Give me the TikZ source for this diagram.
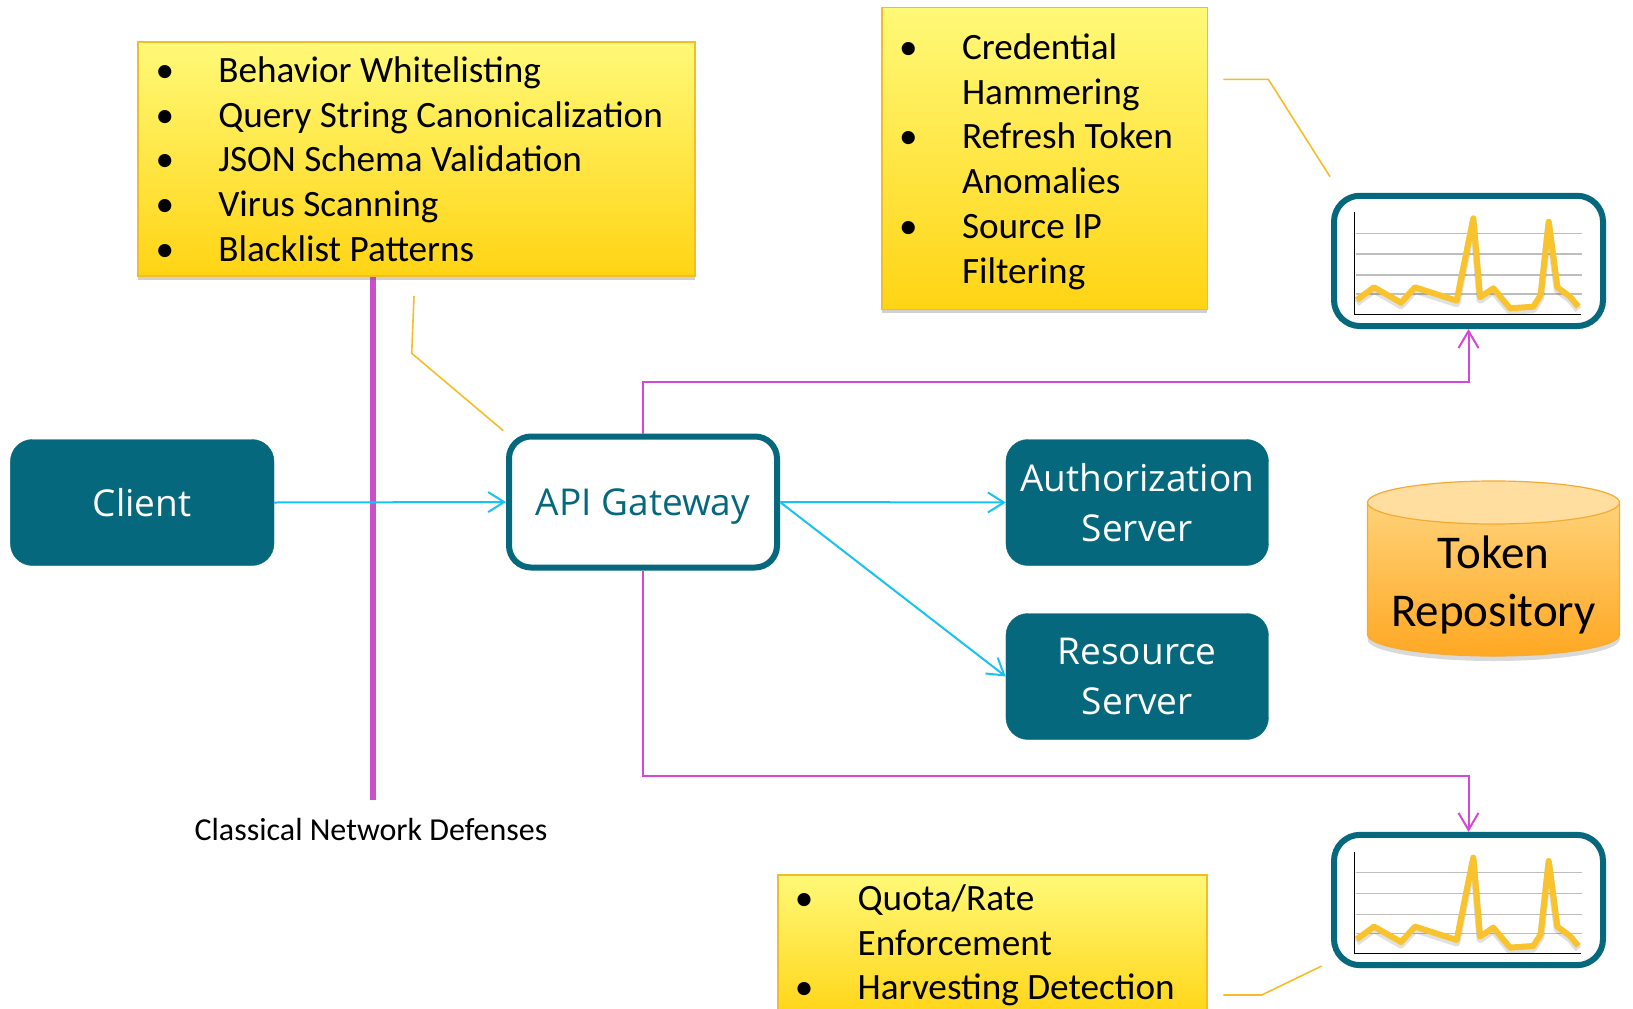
\documentclass[tikz,border=0pt]{standalone}
\usepackage{fontspec}
\setmainfont{Carlito}
\newfontfamily\osans{Open Sans}
\usetikzlibrary{arrows.meta,shadows}
\definecolor{tealc}{RGB}{5,104,125}
\definecolor{yeltop}{RGB}{255,249,120}
\definecolor{yelbot}{RGB}{255,212,20}
\definecolor{yelborder}{RGB}{242,190,40}
\definecolor{cyanc}{RGB}{25,195,240}
\definecolor{magthick}{RGB}{200,80,200}
\definecolor{magthin}{RGB}{212,72,212}
\definecolor{calloutc}{RGB}{245,190,40}
\definecolor{plotc}{RGB}{248,195,45}
\definecolor{gridc}{RGB}{190,190,190}
\definecolor{cyltop}{RGB}{255,210,120}
\definecolor{cylbot}{RGB}{255,168,35}
\definecolor{cylcap}{RGB}{255,222,160}
\definecolor{cylborder}{RGB}{245,170,50}
\newcommand\bul{\makebox[53.5pt][l]{\makebox[0pt]{\textbullet}}}
\tikzset{
  yelbox/.style={draw=yelborder, line width=1.2pt, top color=yeltop, bottom color=yelbot,
    inner sep=0pt, drop shadow={shadow xshift=0pt, shadow yshift=-4pt, opacity=0.3, fill=black!60}},
  bultext/.style={anchor=base west, inner sep=0pt, font=\fontsize{37.2}{44.8}\selectfont},
  darkbox/.style={fill=tealc, draw=tealc, rounded corners=22pt, text=white, align=center,
    inner sep=0pt, font=\osans\fontsize{37}{50.5}\selectfont},
  gatebox/.style={fill=white, draw=tealc, line width=6pt, rounded corners=22pt, text=tealc,
    inner sep=0pt, text depth=0pt, font=\osans\fontsize{37}{50.5}\selectfont},
  chartbox/.style={fill=white, draw=tealc, line width=6pt, rounded corners=26pt, inner sep=0pt,
    minimum width=269pt, minimum height=130.3pt,
    drop shadow={shadow xshift=0pt, shadow yshift=-3pt, opacity=0.25, fill=black!60}},
  cyanarrow/.style={draw=cyanc, line width=2pt, -{Straight Barb[length=16pt,width=20pt]}},
  magarrow/.style={draw=magthin, line width=2pt, -{Straight Barb[length=17pt,width=20pt]}},
  callout/.style={draw=calloutc, line width=1.6pt},
  chartplot/.pic={
    \foreach \gy in {39.6,60.3,81.3,100.3}
      \draw[gridc, line width=1.5pt] (24,\gy) -- (250,\gy);
    \draw[black, line width=1.6pt] (22.3,18.6) -- (22.3,120.6) -- (249,120.6);
    \draw[black, opacity=0.12, line width=7pt, line join=round, transform canvas={yshift=-3pt}]
      (24.7,106.3) -- (42,93.6) -- (69,109) -- (83,93.6) -- (124.7,107) -- (141.3,24.6)
      -- (148,103.6) -- (161.3,94.6) -- (178,114.6) -- (201.3,113) -- (208.7,101.3)
      -- (216.7,28) -- (225.3,93.6) -- (238,103) -- (246.3,113);
    \draw[plotc, line width=6pt, line join=round]
      (24.7,106.3) -- (42,93.6) -- (69,109) -- (83,93.6) -- (124.7,107) -- (141.3,24.6)
      -- (148,103.6) -- (161.3,94.6) -- (178,114.6) -- (201.3,113) -- (208.7,101.3)
      -- (216.7,28) -- (225.3,93.6) -- (238,103) -- (246.3,113);
  }
}
\begin{document}
\begin{tikzpicture}[x=1pt,y=-1pt]
\clip (0,0) rectangle (1633,1009);
\fill[white] (0,0) rectangle (1633,1009);

% thick network-defense line
\draw[magthick, line width=6pt] (373,270) -- (373,800);

% yellow boxes
\node[yelbox, minimum width=557pt, minimum height=234pt] (boxL) at (416.5,159) {};
\node[bultext] (txtL) at (164.6,82.2) {\begin{tabular}[t]{@{}l@{}l@{}}
\bul & Behavior Whitelisting\\
\bul & Query String Canonicalization\\
\bul & JSON Schema Validation\\
\bul & Virus Scanning\\
\bul & Blacklist Patterns
\end{tabular}};

\node[yelbox, minimum width=325.3pt, minimum height=302pt] (boxR) at (1044.65,158.3) {};
\node[bultext] (txtR) at (908.3,59.3) {\begin{tabular}[t]{@{}l@{}l@{}}
\bul & Credential\\
     & Hammering\\
\bul & Refresh Token\\
     & Anomalies\\
\bul & Source IP\\
     & Filtering
\end{tabular}};

\node[yelbox, minimum width=429pt, minimum height=145pt] (boxB) at (992.5,947.5) {};
\node[bultext] (txtB) at (804,910.2) {\begin{tabular}[t]{@{}l@{}l@{}}
\bul & Quota/Rate\\
     & Enforcement\\
\bul & Harvesting Detection
\end{tabular}};

% main nodes
\node[darkbox, minimum width=263.6pt, minimum height=126pt] (client) at (142.2,502.5) {Client};
\node[gatebox, minimum width=268pt, minimum height=131pt] (gw) at (643,502) {API Gateway};
\node[darkbox, minimum width=262.5pt, minimum height=126pt] (auth) at (1137.2,502.5) {Authorization\\Server};
\node[darkbox, minimum width=262.5pt, minimum height=126pt] (res) at (1137.2,676.5) {Resource\\Server};

% token repository
\fill[black, opacity=0.15, transform canvas={yshift=-5pt}]
  (1367.5,502.5) -- (1367.5,634.5)
  .. controls (1367.5,646.4) and (1423.9,656) .. (1493.5,656)
  .. controls (1563.1,656) and (1619.5,646.4) .. (1619.5,634.5)
  -- (1619.5,502.5) -- cycle;
\shade[top color=cyltop, bottom color=cylbot, draw=cylborder, line width=1.2pt]
  (1367.5,502.5) -- (1367.5,634.5)
  .. controls (1367.5,646.4) and (1423.9,656) .. (1493.5,656)
  .. controls (1563.1,656) and (1619.5,646.4) .. (1619.5,634.5)
  -- (1619.5,502.5) -- cycle;
\draw[fill=cylcap, draw=cylborder, line width=1.2pt] (1493.5,502.5) ellipse [x radius=126, y radius=21.5];
\node[align=center, inner sep=0pt, font=\fontsize{47}{58}\selectfont] (tok) at (1493.5,585) {Token\\Repository};

% charts
\node[chartbox] (chartA) at (1468.5,260.9) {};
\node[chartbox] (chartB) at (1468.5,900) {};
\pic at (1332,193.7) {chartplot};
\pic at (1332,833) {chartplot};

% label
\node[anchor=base, inner sep=0pt, font=\fontsize{32}{38}\selectfont] (cnd) at (371,840) {Classical Network Defenses};

% cyan connectors
\draw[cyanarrow] (client.east) -- (gw.west);
\draw[cyanarrow] (gw.east) -- (auth.west);
\draw[cyanarrow] (gw.east) -- (res.west);

% magenta connectors
\coordinate (magT) at (0,381.5);
\coordinate (magB) at (0,775.7);
\draw[magarrow] (gw.north) -- (gw.north |- magT) -| (chartA.south);
\draw[magarrow] (gw.south) -- (gw.south |- magB) -| (chartB.north);

% callout pointers
\coordinate (c1a) at (414,296);
\coordinate (c1b) at (411.7,353.3);
\coordinate (c1c) at (503.3,430.7);
\draw[callout] (c1a) -- (c1b) -- (c1c);
\coordinate (c2a) at (1223.3,79.3);
\coordinate (c2b) at (1268.3,79.3);
\coordinate (c2c) at (1330,176.7);
\draw[callout] (c2a) -- (c2b) -- (c2c);
\coordinate (c3a) at (1223.3,995);
\coordinate (c3b) at (1261.7,995);
\coordinate (c3c) at (1321.7,966);
\draw[callout] (c3a) -- (c3b) -- (c3c);
\end{tikzpicture}
\end{document}
